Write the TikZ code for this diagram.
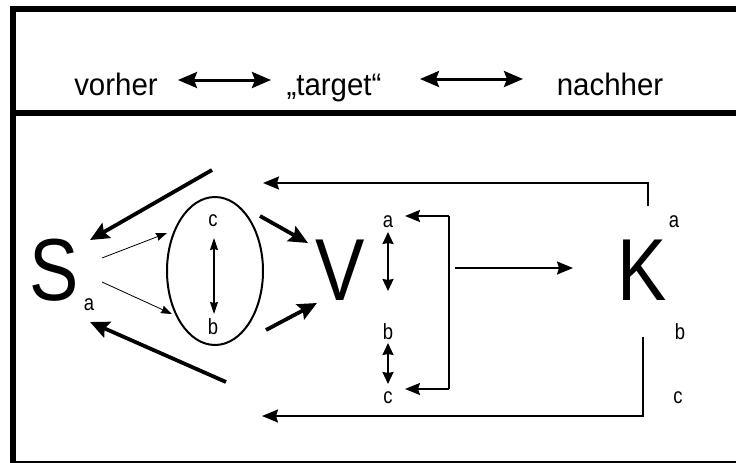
\documentclass[tikz,border=0pt]{standalone}
\usepackage{fontspec}
\setmainfont{Liberation Sans}
\newfontfamily\condfont[FakeStretch=0.84]{Liberation Sans}
\newfontfamily\headfont[FakeStretch=0.95]{Liberation Sans}
\usetikzlibrary{arrows.meta,shapes.geometric}
\begin{document}
\begin{tikzpicture}[x=1pt,y=-1pt,
  toptext/.style={inner sep=0pt,anchor=base,font=\headfont\fontsize{31}{31}\selectfont},
  bigletter/.style={inner sep=0pt,font=\condfont\fontsize{88}{88}\selectfont},
  lbl/.style={inner sep=0pt,font=\condfont\fontsize{22}{22}\selectfont},
  framerule/.style={line width=6pt},
  topdbl/.style={line width=3pt,{Stealth[length=19pt,width=16pt,inset=3pt]}-{Stealth[length=19pt,width=16pt,inset=3pt]}},
  heavy/.style={line width=3.8pt,-{Stealth[length=19pt,width=17pt,inset=3pt]}},
  light/.style={line width=0.8pt,-{Stealth[length=11pt,width=8pt,inset=1pt]}},
  innerdbl/.style={line width=1.2pt,{Stealth[length=12pt,width=8pt,inset=1pt]}-{Stealth[length=12pt,width=8pt,inset=1pt]}},
  sidedbl/.style={line width=2pt,{Stealth[length=12pt,width=11pt,inset=1pt]}-{Stealth[length=12pt,width=11pt,inset=1pt]}},
  loop/.style={line width=2pt,-{Stealth[length=16pt,width=13pt,inset=2pt]}},
  bracket/.style={line width=1.8pt,-{Stealth[length=15pt,width=12pt,inset=2pt]}}]
\useasboundingbox (0,0) rectangle (736,463);
\fill[white] (0,0) rectangle (736,463);

% frame and divider
\draw[framerule] (12.5,466) -- (12.5,9) -- (745,9);
\draw[framerule] (9.5,113) -- (745,113);
\draw[line width=4pt] (9.5,463) -- (745,463);

% header row
\node[toptext] (vor) at (116,95) {vorher};
\node[toptext] (tgt) at (334,95) {„target“};
\node[toptext] (nach) at (610,95) {nachher};
\coordinate (h1l) at (178,80);
\coordinate (h1r) at (271,80);
\coordinate (h2l) at (420,79);
\coordinate (h2r) at (523,79);
\draw[topdbl] (h1l) -- (h1r);
\draw[topdbl] (h2l) -- (h2r);

% S, the ellipse and V
\node[bigletter] (S) at (54,270) {S};
\node[lbl] (Sa) at (89,305) {a};
\node[ellipse,draw,line width=2pt,minimum width=96pt,minimum height=148pt,inner sep=0pt] (E) at (215,271) {};
\node[lbl] (Ec) at (213,221) {c};
\node[lbl] (Eb) at (213,327) {b};
\coordinate (Et) at (214,238);
\coordinate (Eu) at (214,314);
\draw[innerdbl] (Et) -- (Eu);
\node[bigletter] (V) at (340,270) {V};

\coordinate (s1) at (102,258);
\coordinate (e1) at (167,233);
\coordinate (s2) at (102,282);
\coordinate (e2) at (172,314);
\draw[light] (s1) -- (e1);
\draw[light] (s2) -- (e2);

\coordinate (u0) at (212,170);
\coordinate (u1) at (90,240);
\coordinate (d0) at (226,382);
\coordinate (d1) at (90,322);
\draw[heavy] (u0) -- (u1);
\draw[heavy] (d0) -- (d1);

\coordinate (v0) at (260,216);
\coordinate (v1) at (308,243);
\coordinate (w0) at (266,330);
\coordinate (w1) at (317,303);
\draw[heavy] (v0) -- (v1);
\draw[heavy] (w0) -- (w1);

% a, b, c beside V
\node[lbl] (Va) at (388,222) {a};
\node[lbl] (Vb) at (388,332) {b};
\node[lbl] (Vc) at (388,398) {c};
\coordinate (p0) at (388,232);
\coordinate (p1) at (388,291);
\coordinate (q0) at (388,343);
\coordinate (q1) at (388,384);
\draw[sidedbl] (p0) -- (p1);
\draw[sidedbl] (q0) -- (q1);

\coordinate (bt) at (449,216);
\coordinate (bb) at (449,389);
\coordinate (bta) at (405,216);
\coordinate (bba) at (405,389);
\draw[bracket] (bt) -- (bta);
\draw[bracket] (bb) -- (bba);
\draw[line width=1.8pt] (bt) -- (bb);

% K and its labels
\node[bigletter] (K) at (642,270) {K};
\node[lbl] (Ka) at (674,222) {a};
\node[lbl] (Kb) at (680,332) {b};
\node[lbl] (Kc) at (678,398) {c};
\coordinate (m0) at (455,268);
\coordinate (m1) at (573,268);
\draw[loop] (m0) -- (m1);

% feedback loops back to V and S
\coordinate (ft) at (648,206);
\coordinate (ftc) at (648,183);
\coordinate (fta) at (263,183);
\draw[loop] (ft) -- (ftc) -- (fta);
\coordinate (fb) at (643,337);
\coordinate (fbc) at (643,416);
\coordinate (fba) at (262,416);
\draw[loop] (fb) -- (fbc) -- (fba);
\end{tikzpicture}
\end{document}
